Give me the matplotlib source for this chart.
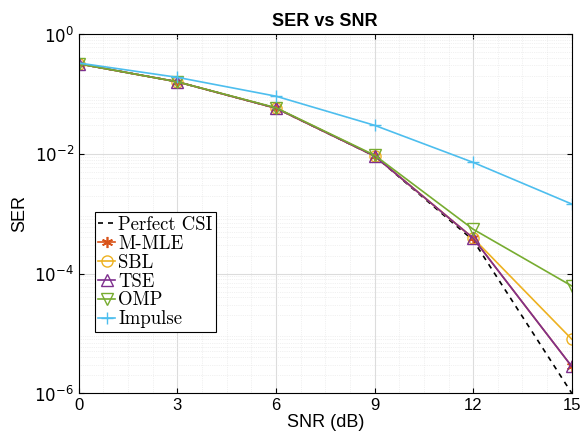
import matplotlib
matplotlib.use("Agg")
import matplotlib.pyplot as plt
import numpy as np

plt.rcParams['font.family'] = ['Liberation Sans', 'DejaVu Sans']
plt.rcParams['axes.unicode_minus'] = False

snr = [0, 3, 6, 9, 12, 15]
ser_perfect = [0.32, 0.16, 0.058, 0.0092, 3.6e-4, 1.0e-6]
ser_mmle = [0.32, 0.16, 0.058, 0.0092, 3.9e-4, 2.8e-6]
ser_sbl = [0.32, 0.16, 0.058, 0.0093, 3.9e-4, 8.0e-6]
ser_tse = [0.32, 0.16, 0.058, 0.0092, 3.9e-4, 2.8e-6]
ser_omp = [0.32, 0.16, 0.059, 0.0095, 5.5e-4, 6.2e-5]
ser_impulse = [0.33, 0.19, 0.092, 0.030, 0.0072, 1.45e-3]
y_ticks = [1e-6, 1e-4, 1e-2, 1]
y_labels = [r'$10^{-6}$', r'$10^{-4}$', r'$10^{-2}$', r'$10^{0}$']

fig = plt.figure(figsize=(5.84, 4.33), dpi=100)
ax = fig.add_axes([0.135, 0.092, 0.844, 0.829])

ax.semilogy(snr, ser_perfect, '--', color='black', lw=1.2, dashes=(3, 3),
            label='Perfect CSI')
ax.semilogy(snr, ser_mmle, '-', marker=(6, 2, 0), color=(0.85, 0.325, 0.098),
            lw=1.2, ms=8, mew=1.2, label='M-MLE')
ax.semilogy(snr, ser_sbl, '-o', color=(0.929, 0.694, 0.125), lw=1.2, ms=8,
            mfc='none', label='SBL')
ax.semilogy(snr, ser_tse, '-^', color=(0.494, 0.184, 0.556), lw=1.2, ms=8,
            mfc='none', label='TSE')
ax.semilogy(snr, ser_omp, '-v', color=(0.466, 0.674, 0.188), lw=1.2, ms=9,
            mfc='none', label='OMP')
ax.semilogy(snr, ser_impulse, '-+', color=(0.301, 0.745, 0.933), lw=1.2, ms=9,
            label='Impulse')

ax.set_xlim(0, 15)
ax.set_ylim(1e-6, 1)
ax.set_xticks(snr)
ax.set_yticks(y_ticks)
ax.set_yticklabels(y_labels)
ax.tick_params(which='both', direction='in', top=True, right=True, labelsize=12)
ax.tick_params(which='minor', length=0)
ax.set_xticks(np.arange(0, 15.1, 0.75), minor=True)

ax.grid(True, which='major', color='#dcdcdc', lw=0.8)
ax.grid(True, which='minor', color='#e4e4e4', lw=0.5, ls=':')
ax.set_axisbelow(True)

ax.set_xlabel('SNR (dB)', fontsize=13, labelpad=1)
ax.set_ylabel('SER', fontsize=13)
ax.set_title('SER vs SNR', fontsize=13, fontweight='bold')

leg = ax.legend(loc='lower left', bbox_to_anchor=(0.032, 0.17),
                prop={'family': 'cmr10', 'size': 13.5}, frameon=True,
                fancybox=False, edgecolor='black', framealpha=1,
                handlelength=0.9, handletextpad=0.15, borderpad=0.2,
                labelspacing=0.05, borderaxespad=0)
leg.get_frame().set_linewidth(0.8)

fig.savefig('out.png', dpi=100)
